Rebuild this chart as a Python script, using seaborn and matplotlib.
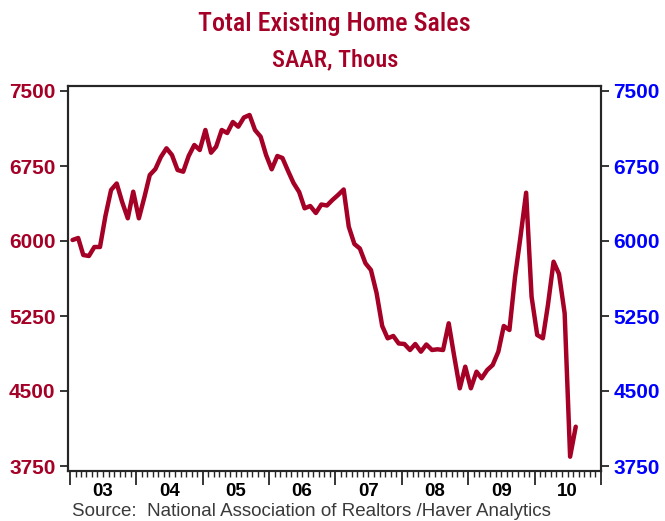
import numpy as np
import pandas as pd
import matplotlib
matplotlib.use("Agg")
import matplotlib.pyplot as plt
import matplotlib.dates as mdates
from matplotlib import font_manager
from matplotlib.font_manager import FontProperties
from matplotlib.textpath import TextPath
import seaborn as sns

# Total existing home sales, SAAR thousands, monthly from Jan 2003
sales = [6010, 6030, 5860, 5850, 5940, 5940, 6250, 6510, 6575, 6390, 6227, 6493,
         6227, 6443, 6660, 6720, 6840, 6927, 6860, 6710, 6693, 6850, 6960, 6910,
         7110, 6883, 6943, 7110, 7080, 7190, 7143, 7235, 7260, 7110, 7043, 6860,
         6717, 6850, 6830, 6700, 6580, 6490, 6327, 6350, 6280, 6365, 6355, 6410,
         6460, 6515, 6143, 5970, 5925, 5777, 5710, 5480, 5150, 5027, 5050, 4975,
         4970, 4910, 4970, 4893, 4965, 4910, 4917, 4910, 5177, 4850, 4527, 4743,
         4527, 4693, 4627, 4710, 4760, 4893, 5150, 5110, 5640, 6043, 6483, 5443,
         5060, 5027, 5360, 5793, 5670, 5277, 3843, 4143]
start_month = "2003-01"
year_labels = ["03", "04", "05", "06", "07", "08", "09", "10"]
yticks = [3750, 4500, 5250, 6000, 6750, 7500]

title = "Total Existing Home Sales"
subtitle = "SAAR, Thous"
source = "Source:  National Association of Realtors /Haver Analytics"

red = "#A50026"
blue = "#0000FF"

sns.set_style("ticks")
plt.rcParams['font.family'] = ['Liberation Sans', 'DejaVu Sans']

ok_words = {'Noto', 'Sans', 'Condensed', 'SemiCondensed', 'ExtraCondensed', 'Narrow',
            'Liberation', 'DejaVu', 'Open', 'Roboto', 'Lato', 'Inter', 'Bold', 'SemiBold',
            'Medium', 'Light', 'Black', 'ExtraBold', 'Regular', 'Semibold'}


def text_size(fp, s):
    ext = TextPath((0, 0), s, prop=fp).get_extents()
    return ext.width, ext.height


def weight_num(w):
    if isinstance(w, int):
        return w
    return {'bold': 700, 'medium': 500, 'semibold': 600, 'black': 900,
            'light': 300, 'heavy': 800}.get(str(w).lower(), 400)


def pick_title_font():
    # condensed sans face with proportions and weight near the reference title
    target = 271 / 19.0
    best = (99.0, font_manager.findfont(FontProperties(family='Liberation Sans')))
    for f in font_manager.fontManager.ttflist:
        nm = f.name
        if f.style != 'normal' or not set(nm.split()) <= ok_words:
            continue
        if not ('Narrow' in nm or 'Condensed' in nm or 'condensed' in str(f.stretch)):
            continue
        w = weight_num(f.weight)
        try:
            fp = FontProperties(fname=f.fname, size=10)
            tw, _ = text_size(fp, title)
            _, th = text_size(fp, "T")
        except Exception:
            continue
        if th <= 0:
            continue
        score = abs(tw / th - target) + abs(w - 500) / 80
        if score < best[0]:
            best = (score, f.fname)
    return best[1]


tfile = pick_title_font()


def fitted(s, width_px):
    fp = FontProperties(fname=tfile, size=10)
    tw, _ = text_size(fp, s)
    return FontProperties(fname=tfile, size=10 * width_px * 0.72 / tw)


dates = pd.date_range(start_month, periods=len(sales), freq="MS") + pd.Timedelta(days=14)
df = pd.DataFrame({"date": dates, "sales": sales})

fig = plt.figure(figsize=(6.65, 5.21), dpi=100)
ax = fig.add_axes([68/665, 50/521, 533/665, 385/521])
sns.lineplot(data=df, x="date", y="sales", ax=ax, color=red, linewidth=3.2)

ax.set_xlim(pd.Timestamp("2002-12-21"), pd.Timestamp("2011-01-01"))
ax.set_ylim(3700, 7550)
ax.set_xlabel("")
ax.set_ylabel("")

for s in ax.spines.values():
    s.set_visible(True)
    s.set_linewidth(1.5)
    s.set_color("black")

ax.set_yticks(yticks)
ax.set_yticklabels([str(v) for v in yticks], color=red, fontweight="bold", fontsize=15)
ax.tick_params(axis="y", direction="out", length=6, width=1.3, pad=3)

ax.xaxis.set_major_locator(mdates.YearLocator())
ax.xaxis.set_minor_locator(mdates.MonthLocator())
ax.xaxis.set_major_formatter(matplotlib.ticker.NullFormatter())
ax.tick_params(axis="x", which="major", direction="out", length=10, width=1.3)
ax.tick_params(axis="x", which="minor", direction="out", length=4, width=1.0)

for i, lab in enumerate(year_labels):
    ax.text(pd.Timestamp(f"{2003 + i}-07-01"), -0.052, lab, transform=ax.get_xaxis_transform(),
            ha="center", va="center", fontsize=13.5, fontweight="bold", color="black")

ax2 = ax.twinx()
ax2.set_ylim(ax.get_ylim())
ax2.set_yticks(yticks)
ax2.set_yticklabels([str(v) for v in yticks], color=blue, fontweight="bold", fontsize=15)
ax2.tick_params(axis="y", direction="out", length=6, width=1.3, pad=3)
for s in ax2.spines.values():
    s.set_linewidth(1.5)

fig.text(334.5/665, 1 - 31/521, title, ha="center", va="baseline",
         color=red, fontproperties=fitted(title, 271))
fig.text(335/665, 1 - 66/521, subtitle, ha="center", va="baseline",
         color=red, fontproperties=fitted(subtitle, 124))
fig.text(72/665, 1 - 511/521, source, ha="left", va="center", fontsize=13.5, color="#3a3a3a")

fig.savefig("out.png", dpi=100)
